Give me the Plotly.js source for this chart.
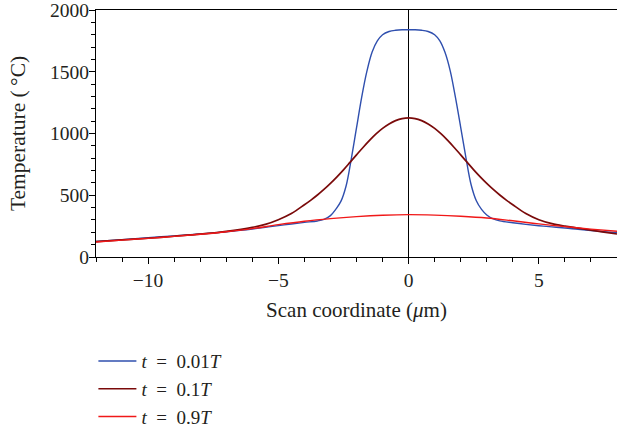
<!DOCTYPE html>
<html>
<head>
<meta charset="utf-8">
<script src="https://cdn.plot.ly/plotly-3.0.1.min.js"></script>
<style>html,body{margin:0;padding:0;background:#fff;}#chart{width:617px;height:427px;}</style>
</head>
<body>
<div id="chart"></div>
<script>
// Scan coordinate (um) and temperature (deg C)
var xBlue = [-12,-11,-10,-9,-8,-7,-6,-5.5,-5,-4.5,-4,-3.5,-3.25,-3,-2.8,-2.6,-2.4,-2.2,-2,-1.8,-1.6,-1.4,-1.2,-1,-0.75,-0.5,-0.25,0,0.25,0.5,0.75,1,1.2,1.4,1.6,1.8,2,2.2,2.4,2.6,2.8,3,3.25,3.5,4,4.5,5,5.5,6,6.5,7,7.5,8];
var tBlue = [126,141,156,171,186,204,226,240,254,267,280,292,305,335,385,450,575,795,1045,1295,1505,1660,1750,1800,1826,1836,1840,1840,1840,1836,1826,1800,1750,1655,1505,1290,1050,805,585,455,385,340,308,292,277,264,253,244,235,224,214,205,196];

var xDark = [-12,-11,-10,-9,-8,-7,-6,-5.5,-5,-4.5,-4,-3.75,-3.5,-3.25,-3,-2.75,-2.5,-2.25,-2,-1.75,-1.5,-1.25,-1,-0.75,-0.5,-0.25,0,0.25,0.5,0.75,1,1.25,1.5,1.75,2,2.25,2.5,2.75,3,3.25,3.5,3.75,4,4.5,5,5.5,6,6.5,7,7.5,8];
var tDark = [124,138,152,168,185,208,240,264,302,352,423,461,502,547,596,649,706,766,827,887,944,996,1041,1077,1104,1121,1127,1121,1104,1077,1041,996,944,887,827,766,706,649,596,547,502,461,423,352,302,270,250,234,218,202,186];

var xRed = [-12,-11,-10,-9,-8,-7,-6,-5,-4,-3,-2,-1,0,1,2,3,4,5,6,7,8];
var tRed = [122,137,151,167,184,205,230,262,290,311,327,338,343,339,330,316,293,268,246,226,208];

var names = ['<i>t</i>\u2002=\u20020.01<i>T</i>', '<i>t</i>\u2002=\u20020.1<i>T</i>', '<i>t</i>\u2002=\u20020.9<i>T</i>'];
var colors = ['#2f4fae', '#7a0a0a', '#f01818'];

var traces = [
  {x: xBlue, y: tBlue, name: names[0], mode: 'lines', line: {color: colors[0], width: 1.4, shape: 'spline', smoothing: 1}},
  {x: xDark, y: tDark, name: names[1], mode: 'lines', line: {color: colors[1], width: 1.7, shape: 'spline', smoothing: 1}},
  {x: xRed, y: tRed, name: names[2], mode: 'lines', line: {color: colors[2], width: 1.4, shape: 'spline', smoothing: 1}}
];

var fontFam = '"Liberation Serif", "DejaVu Serif", serif';
var layout = {
  width: 617, height: 427,
  margin: {l: 96, r: 0, t: 10, b: 170, pad: 0, autoexpand: false},
  paper_bgcolor: '#fff', plot_bgcolor: '#fff',
  font: {family: fontFam, size: 19, color: '#231f20'},
  showlegend: true,
  legend: {x: -0.005, y: -0.345, xanchor: 'left', yanchor: 'top', orientation: 'v',
           itemwidth: 38,
           font: {family: fontFam, size: 19, color: '#231f20'}, bgcolor: 'rgba(0,0,0,0)', tracegroupgap: 0},
  xaxis: {
    range: [-12, 8], tickvals: [-10, -5, 0, 5], ticktext: ['\u221210', '\u22125', '0', '5'],
    ticks: 'outside', ticklen: 6, tickwidth: 1, tickcolor: '#000',
    minor: {dtick: 1, ticks: 'outside', ticklen: 4, tickwidth: 1, tickcolor: '#000', showgrid: false},
    showline: true, linecolor: '#000', linewidth: 1, mirror: true,
    showgrid: false, zeroline: true, zerolinecolor: '#000', zerolinewidth: 1.2,
    layer: 'above traces',
    title: {text: 'Scan coordinate (<i>\u03bc</i>m)', font: {family: fontFam, size: 21}, standoff: 11},
    tickfont: {family: fontFam, size: 19.5},
    ticklabelstandoff: 0, ticklabeloverflow: 'allow'
  },
  yaxis: {
    range: [0, 2000], tickvals: [0, 500, 1000, 1500, 2000],
    ticks: 'outside', ticklen: 6, tickwidth: 1, tickcolor: '#000',
    minor: {dtick: 100, ticks: 'outside', ticklen: 4, tickwidth: 1, tickcolor: '#000', showgrid: false},
    showline: true, linecolor: '#000', linewidth: 1, mirror: false,
    showgrid: false, zeroline: false,
    title: {text: 'Temperature (\u2009\u00b0C)', font: {family: fontFam, size: 21.5}, standoff: 18},
    tickfont: {family: fontFam, size: 19.5},
    ticklabelstandoff: -4, ticklabeloverflow: 'allow'
  }
};

Plotly.newPlot('chart', traces, layout, {displayModeBar: false, staticPlot: true});
</script>
</body>
</html>
